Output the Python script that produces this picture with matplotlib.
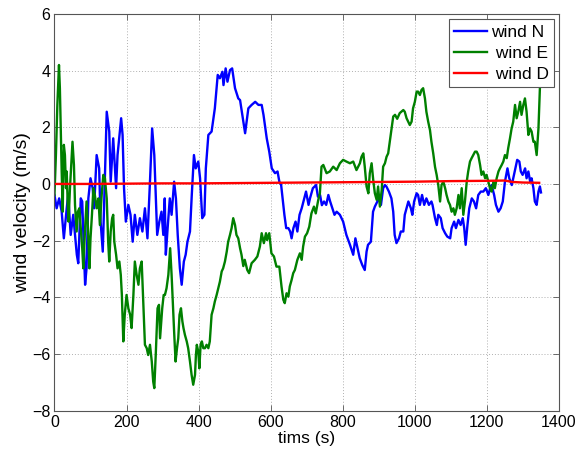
import matplotlib
matplotlib.use("Agg")
import matplotlib.pyplot as plt

# ---- data ----
t_N = [0, 6, 13, 20, 26, 34, 38, 45, 52, 62, 66, 73, 77, 85, 89, 94, 100, 106, 110, 117,
       124, 128, 134, 137, 145, 152, 156, 163, 171, 175, 185, 189, 193, 198, 205, 211, 217,
       223, 230, 237, 244, 251, 258, 265, 271, 277, 281, 285, 291, 297, 302, 306, 309, 314,
       320, 325, 332, 337, 342, 348, 353, 359, 364, 369, 376, 381, 387, 392, 399, 404, 410,
       416, 420, 427, 436, 445, 453, 459, 466, 469, 475, 480, 487, 493, 501, 510, 515, 529,
       538, 547, 557, 566, 575, 580, 589, 596, 603, 612, 619, 624, 629, 633, 638, 643, 649,
       654, 658, 663, 669, 674, 680, 686, 693, 698, 705, 709, 717, 726, 731, 737, 742, 748,
       754, 760, 765, 771, 777, 783, 792, 801, 810, 820, 829, 835, 841, 847, 854, 861, 866,
       870, 878, 884, 889, 896, 901, 906, 912, 917, 921, 928, 935, 940, 944, 949, 956, 961,
       968, 972, 977, 982, 989, 993, 998, 1005, 1009, 1014, 1020, 1026, 1032, 1039, 1046,
       1049, 1056, 1061, 1065, 1072, 1077, 1084, 1090, 1098, 1102, 1109, 1114, 1121, 1127,
       1133, 1137, 1141, 1146, 1151, 1158, 1164, 1170, 1176, 1183, 1190, 1197, 1204, 1209,
       1213, 1220, 1225, 1232, 1238, 1244, 1250, 1257, 1262, 1269, 1275, 1281, 1284, 1290,
       1294, 1299, 1306, 1310, 1315, 1320, 1324, 1329, 1333, 1338, 1343, 1347, 1350]
v_N = [-0.39, -0.86, -0.51, -0.98, -1.92, -0.86, -0.39, -1.8, -1.09, -2.5, -2.8, -0.51, -0.62,
       -3.56, -2.98, -0.51, 0.2, -0.15, -0.86, 1.02, 0.55, -1.33, -2.39, -1.09, 2.55, 1.85,
       0.08, 1.61, -0.15, 1.02, 2.32, 1.73, -0.15, -1.33, -0.74, -1.09, -2.04, -1.09, -1.8,
       -1.21, -1.68, -0.86, -1.92, 0.08, 1.96, 1.02, -0.39, -1.8, -1.33, -0.98, -1.8, -0.51,
       -2.5, -1.56, -0.51, -1.09, 0.08, -0.51, -1.8, -2.98, -3.56, -2.74, -2.5, -2.04, -1.68,
       -0.39, 1.02, 0.55, 0.79, 0.2, -1.21, -1.09, 0.55, 1.73, 1.85, 2.67, 3.85, 3.73, 3.96,
       3.49, 4.08, 3.61, 4.02, 4.08, 3.38, 3.02, 2.96, 1.79, 2.67, 2.79, 2.9, 2.79, 2.79, 2.44,
       1.61, 1.14, 0.55, 0.38, 0.44, 0.08, -0.04, -0.51, -1.09, -1.56, -1.56, -1.68, -1.92,
       -1.56, -1.33, -1.68, -1.09, -0.86, -0.51, -0.27, -0.74, -0.51, -0.15, -0.04, -0.45,
       -0.39, -0.75, -0.62, -0.74, -0.39, -0.62, -0.86, -1.09, -0.98, -1.09, -1.33, -1.8,
       -2.15, -2.5, -1.92, -2.27, -2.62, -2.86, -3.04, -2.39, -2.15, -2.04, -0.98, -0.8, -0.62,
       -0.51, -0.74, -0.15, -0.04, -0.09, -0.27, -0.51, -0.98, -1.8, -2.09, -1.92, -1.68,
       -1.68, -1.09, -0.86, -0.62, -0.86, -1.09, -0.62, -0.33, -0.39, -0.74, -0.39, -0.74,
       -0.51, -0.74, -0.62, -0.74, -1.21, -1.45, -1.09, -1.21, -1.56, -1.74, -1.86, -1.92,
       -1.56, -1.33, -1.56, -1.27, -1.45, -1.21, -1.56, -2.15, -1.45, -0.86, -0.51, -0.62,
       -0.86, -0.39, -0.27, -0.27, -0.15, -0.39, -0.15, -0.04, -0.39, -0.74, -0.98, -0.86,
       -0.62, 0.08, 0.55, 0.2, -0.04, 0.32, 0.67, 0.85, 0.79, 0.44, 0.32, 0.55, 0.2, 0.44,
       0.08, 0.2, -0.15, -0.62, -0.74, -0.27, -0.09, -0.3]

t_E = [0, 4, 8, 12.5, 15, 17, 20, 23, 24.5, 26, 29, 32, 34, 36.5, 39, 43, 47, 50, 54, 57,
       61.5, 65, 69, 73, 77, 80, 85, 89, 93, 97, 100, 104, 108, 112, 117, 122, 126, 131,
       135.5, 140, 145, 149, 152, 156, 160, 163, 166, 171, 175, 180, 184, 187, 191, 195, 200,
       205, 210, 214, 219, 223, 228, 233, 237, 242, 247, 251, 256, 260, 265, 270, 274, 277,
       281, 286, 290, 293, 295, 299, 303, 306.5, 311, 316, 318.5, 321, 325, 329, 332, 336,
       340, 343.5, 347, 351, 355, 358, 362, 367, 371, 376, 380.5, 385, 390, 392.5, 395, 399,
       402, 405.5, 409, 413, 417.5, 422, 427, 431, 436, 441, 445, 450, 454.5, 459, 464, 468,
       473, 478, 482, 487, 491.5, 496, 501, 505, 510, 515, 519, 524, 528, 535, 540, 547, 556,
       563, 570, 575, 581, 587, 590, 596, 602, 609, 616, 624, 630, 635, 639, 644, 649, 653,
       658, 662.5, 667, 674, 681, 686, 690, 695, 701, 707, 713, 720, 725, 732, 736.5, 741,
       746, 755, 764, 773.5, 783, 792, 801, 810, 820, 829, 838, 847.5, 852, 857, 861, 866,
       871, 875, 880, 884.5, 889, 894, 898, 903, 908, 912, 917, 921.5, 926, 931, 935, 940,
       945, 951, 958, 968, 972, 977, 986, 991, 995, 1000, 1005, 1009, 1014, 1018.5, 1023,
       1028, 1032, 1037, 1042, 1046, 1051, 1056, 1060.5, 1065, 1070, 1074, 1079, 1084, 1088,
       1093, 1097.5, 1102, 1107, 1111, 1116, 1121, 1125, 1130, 1134.5, 1139, 1144, 1148,
       1153, 1157.5, 1162, 1167, 1171.5, 1176, 1181, 1185, 1190, 1195, 1199, 1204, 1208.5,
       1213, 1218, 1222, 1227, 1232, 1236, 1241, 1245.5, 1250, 1255, 1259, 1264, 1268.5,
       1273, 1278, 1282.5, 1287, 1292, 1296, 1301, 1305.5, 1310, 1315, 1319.5, 1324, 1329,
       1333, 1338, 1343, 1347, 1350]
v_E = [-0.39, 1.02, 2.79, 4.2, 3.38, 2.2, 0.44, -0.98, 0.67, 1.38, 1.02, -0.15, 0.44, -0.62,
       -1.33, -0.15, 0.79, 1.49, 0.67, -0.74, -1.68, -0.98, -0.86, -1.56, -2.27, -2.98, -1.56,
       -0.62, -1.56, -2.98, -1.92, -1.09, -0.15, -0.39, -0.86, -0.51, -1.45, -0.39, 0.32, 0.2,
       -0.51, -2.04, -2.74, -1.68, -1.21, -1.09, -2.04, -2.5, -2.98, -2.74, -3.21, -3.92,
       -5.56, -4.62, -3.92, -4.39, -4.62, -5.09, -3.92, -2.74, -3.21, -3.56, -2.98, -2.74,
       -4.39, -5.68, -5.8, -6.04, -5.68, -6.27, -6.98, -7.21, -6.04, -4.39, -4.27, -5.45,
       -5.09, -4.39, -3.92, -3.92, -3.68, -3.21, -2.74, -2.27, -3.21, -4.39, -5.21, -6.27,
       -5.8, -5.45, -4.62, -4.39, -4.86, -5.09, -5.33, -5.56, -5.8, -6.27, -6.74, -7.09, -6.74,
       -6.04, -5.68, -5.92, -6.51, -5.68, -5.56, -5.8, -5.8, -5.68, -5.8, -5.56, -4.62, -4.39,
       -4.15, -3.92, -3.68, -3.45, -3.09, -2.98, -2.74, -2.39, -2.04, -1.8, -1.56, -1.21,
       -1.45, -1.8, -1.92, -2.27, -2.5, -2.9, -2.68, -3.04, -3.15, -2.8, -2.68, -2.56, -2.21,
       -1.74, -2.09, -1.74, -1.98, -1.74, -2.45, -2.56, -2.92, -2.92, -3.62, -4.09, -4.21,
       -3.86, -3.98, -3.62, -3.39, -3.15, -3.04, -2.68, -2.45, -2.68, -2.21, -1.86, -1.74,
       -1.51, -1.04, -0.8, -1.04, -0.56, -0.33, 0.61, 0.67, 0.38, 0.44, 0.61, 0.49, 0.73, 0.85,
       0.79, 0.73, 0.79, 0.49, 0.73, 0.96, 1.08, 0.61, -0.09, -0.33, 0.38, 0.73, 0.14, -0.33,
       -0.56, -0.09, -0.8, -0.21, 0.61, 0.73, 0.96, 1.08, 1.55, 1.91, 2.38, 2.44, 2.3, 2.5,
       2.61, 2.55, 2.32, 2.08, 2.2, 2.67, 2.9, 3.26, 3.26, 3.14, 3.32, 3.38, 3.02, 2.55, 2.2,
       1.9, 1.49, 1.08, 0.6, 0.32, -0.04, -0.62, -0.04, 0.08, -0.15, -0.39, -0.62, -0.74,
       -0.98, -0.86, -1.09, -0.86, -0.39, -0.86, -0.15, -1.09, -0.62, 0.08, 0.44, 0.79, 0.91,
       1.02, 1.14, 1.14, 1.02, 0.67, 0.32, 0.44, 0.2, 0.32, 0.08, -0.15, -0.27, 0.08, -0.15,
       0.2, 0.44, 0.55, 0.67, 0.79, 1.02, 0.91, 1.26, 1.61, 1.96, 2.2, 2.79, 2.32, 2.55, 2.9,
       2.44, 2.79, 3.02, 2.55, 1.73, 1.96, 1.85, 1.49, 1.49, 1.02, 1.96, 3.38, 4.08]

t_D = [0, 100, 200, 300, 400, 500, 600, 700, 800, 900, 1000, 1100, 1200, 1250, 1270, 1300, 1345]
v_D = [0.0, 0.0, 0.01, 0.02, 0.02, 0.03, 0.04, 0.05, 0.06, 0.07, 0.08, 0.1, 0.11, 0.12, 0.07, 0.05, 0.04]

labels = ["wind N", " wind E", " wind D"]
xticks = [0, 200, 400, 600, 800, 1000, 1200, 1400]
yticks = [-8, -6, -4, -2, 0, 2, 4, 6]

# ---- figure ----
plt.rcParams['font.family'] = ['Liberation Sans', 'DejaVu Sans']
fig = plt.figure(figsize=(5.87, 4.55), dpi=100)
ax = fig.add_axes([0.0928, 0.0978, 0.8595, 0.8714])

ax.plot(t_N, v_N, color=(0, 0, 1), lw=1.7, label=labels[0])
ax.plot(t_E, v_E, color=(0, 0.5, 0), lw=1.7, label=labels[1])
ax.plot(t_D, v_D, color=(1, 0, 0), lw=1.7, label=labels[2])

ax.set_xlim(0, 1400)
ax.set_ylim(-8, 6)
ax.set_xticks(xticks)
ax.set_yticks(yticks)
ax.tick_params(direction='in', top=True, right=True, labelsize=11.5, length=4,
               width=0.6, color='#555555', pad=3)
ax.grid(True, linestyle=(0, (1, 2)), color='#b0b0b0', linewidth=0.7)
for s in ax.spines.values():
    s.set_color('#555555')
    s.set_linewidth(0.8)

ax.set_xlabel("tims (s)", fontsize=12.5, labelpad=1)
ax.set_ylabel("wind velocity (m/s)", fontsize=14, labelpad=1)

leg = ax.legend(loc='upper right', fontsize=12.5, fancybox=False, framealpha=1,
                edgecolor='#555555', handlelength=1.9, borderaxespad=0.3,
                labelspacing=0.35, handletextpad=0.2, borderpad=0.3)
leg.get_frame().set_linewidth(0.8)

fig.savefig("out.png", dpi=100)
